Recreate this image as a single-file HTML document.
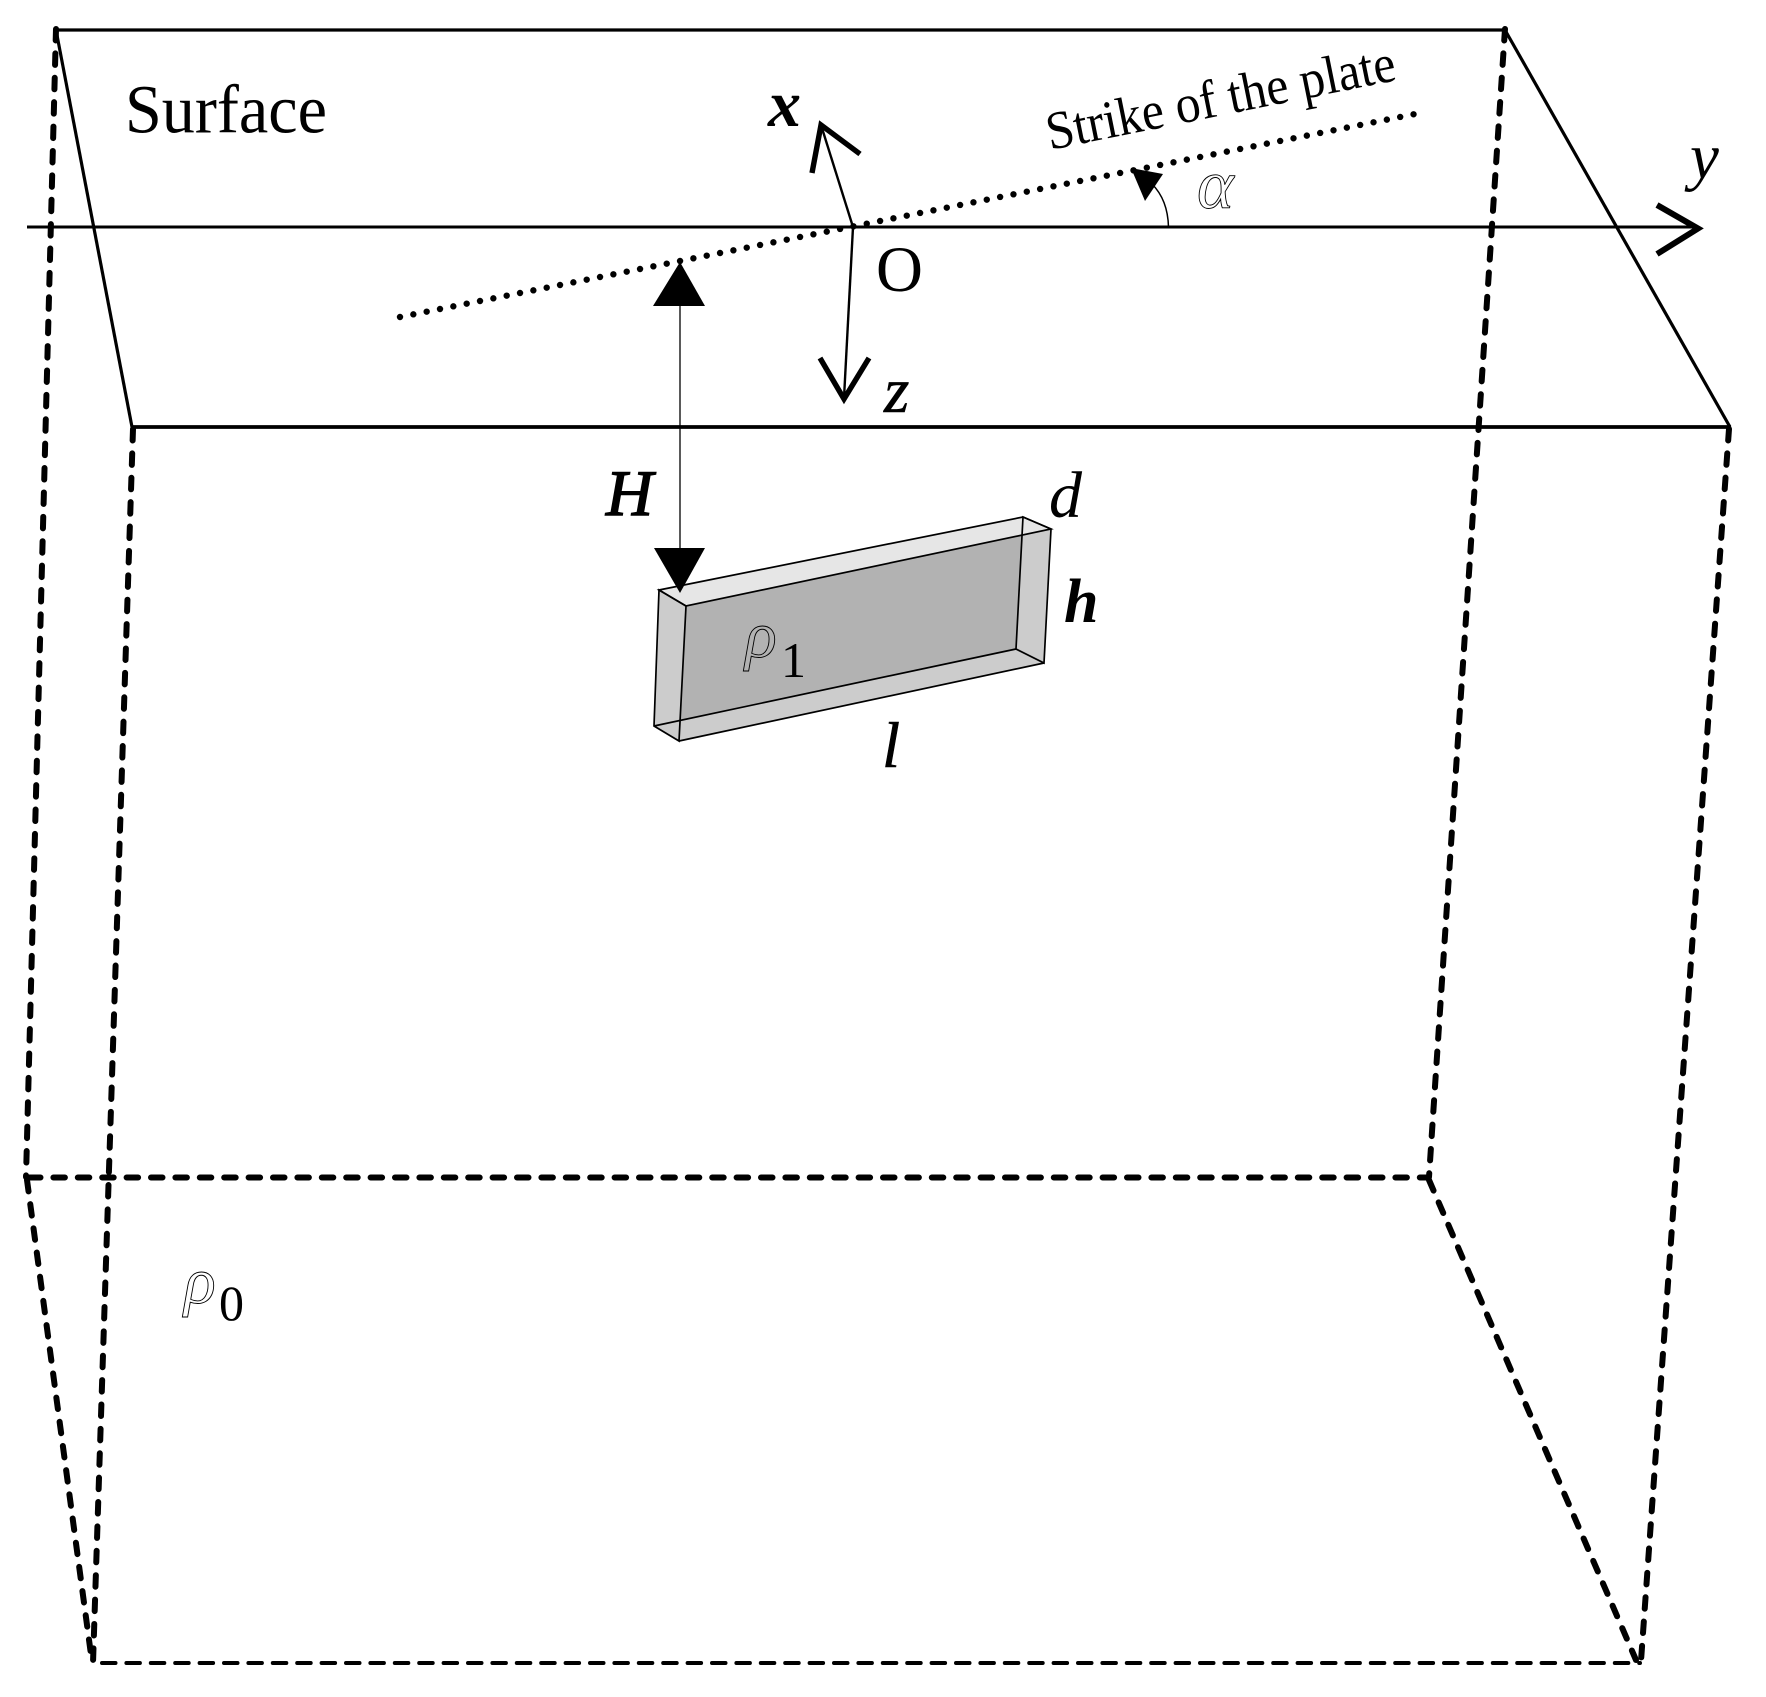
<!DOCTYPE html>
<html lang="en">
<head>
<meta charset="utf-8">
<title>Plate model diagram</title>
<style>
html,body{margin:0;padding:0;background:#fff;}
svg{display:block;}
text{font-family:"Liberation Serif",serif;fill:#000;}
.i{font-style:italic;}
.b{font-style:italic;font-weight:bold;}
.m{font-style:italic;stroke:#000;stroke-width:0.9;}
</style>
</head>
<body>
<svg width="1766" height="1697" viewBox="0 0 1766 1697" xmlns="http://www.w3.org/2000/svg">
<rect width="1766" height="1697" fill="#fff"/>

<!-- box plate -->
<polygon points="1023,517 1051,529 1044,663 1016,649" fill="#ccc"/>
<polygon points="659,590 686,606 679,741 654,726" fill="#ccc"/>
<polygon points="654,726 679,741 1044,663 1016,649" fill="#ccc"/>
<polygon points="686,606 1022,535 1016,649 680.5,720" fill="#b2b2b2"/>
<polygon points="659,590 1023,517 1051,529 686,606" fill="#e6e6e6"/>
<g fill="none" stroke="#000" stroke-width="1.7">
<polygon points="659,590 1023,517 1051,529 686,606"/>
<polygon points="659,590 686,606 679,741 654,726"/>
<polygon points="1023,517 1051,529 1044,663 1016,649"/>
<polyline points="654,726 1016,649"/>
<polyline points="679,741 1044,663"/>
</g>

<!-- solid surface -->
<g fill="none" stroke="#000" stroke-linecap="butt">
<line x1="56" y1="30" x2="1505" y2="30" stroke-width="3.2"/>
<line x1="132" y1="427" x2="1731" y2="427" stroke-width="3.8"/>
<line x1="56" y1="30" x2="132" y2="427" stroke-width="3.2"/>
<line x1="1505" y1="30" x2="1730" y2="427" stroke-width="3.2"/>
<line x1="27" y1="227" x2="1697" y2="227" stroke-width="3"/>
</g>

<!-- dashed box -->
<g fill="none" stroke="#000" stroke-width="6" stroke-linecap="round" stroke-dasharray="11.5 12.9">
<line x1="56" y1="29" x2="26" y2="1177"/>
<line x1="1505" y1="29" x2="1429" y2="1177"/>
<line x1="133" y1="429" x2="93" y2="1663"/>
<line x1="1731" y1="429" x2="1643" y2="1661" transform="translate(-2,0)"/>
<line x1="29" y1="1177.5" x2="1428" y2="1177.5"/>
<line x1="27" y1="1180" x2="92" y2="1662"/>
<line x1="1429" y1="1180" x2="1636" y2="1660"/>
</g>
<line x1="102" y1="1663" x2="1640" y2="1663" fill="none" stroke="#000" stroke-width="4" stroke-linecap="round" stroke-dasharray="13.5 10.9"/>

<!-- strike dotted line -->
<line x1="400" y1="317" x2="1415" y2="114" fill="none" stroke="#000" stroke-width="6.4" stroke-linecap="round" stroke-dasharray="0 13.6"/>

<!-- coordinate axes -->
<g fill="none" stroke="#000">
<line x1="853" y1="227" x2="821" y2="125" stroke-width="2.4"/>
<polyline points="812,173 821,125 860,154" stroke-width="5.4"/>
<line x1="853" y1="227" x2="844" y2="398" stroke-width="2.4"/>
<polyline points="820,358 844,399 869,358" stroke-width="5.4"/>
<polyline points="1657,205 1698,228.5 1657,254" stroke-width="6"/>
<line x1="680" y1="300" x2="680" y2="560" stroke-width="1.3"/>
<path d="M1168.5,227 C1168,208 1162,194 1152,184" stroke-width="1.5"/>
</g>
<polygon points="680,262 653,306 705,306" fill="#000"/>
<polygon points="654,548 705,548 680,593" fill="#000"/>
<polygon points="1131,168 1163,174 1145,201" fill="#000"/>

<!-- labels -->
<text x="125" y="132.5" font-size="69" textLength="202" lengthAdjust="spacingAndGlyphs">Surface</text>
<text x="0" y="0" font-size="54" textLength="355" lengthAdjust="spacingAndGlyphs" transform="translate(1050,150) rotate(-11.4)">Strike of the plate</text>
<text x="768" y="126" font-size="66" class="b">x</text>
<text x="876" y="291" font-size="65">O</text>
<text x="1690" y="178" font-size="65" class="i">y</text>
<text x="884" y="412" font-size="65" class="i" style="stroke:#000;stroke-width:0.6">z</text>
<text x="606" y="515" font-size="65" class="i" style="stroke:#000;stroke-width:1.4">H</text>
<text x="1049" y="517" font-size="66" class="i">d</text>
<text x="1064" y="622" font-size="62" class="b">h</text>
<text x="882" y="767" font-size="65" class="i" style="stroke:#000;stroke-width:0.6">l</text>

<text x="1197" y="208" font-size="70" class="m" style="fill:#fff">α</text>

<text x="745" y="657" font-size="66" class="m" style="fill:#b2b2b2">ρ</text>
<text x="781" y="677" font-size="50">1</text>
<text x="184" y="1303" font-size="66" class="m" style="fill:#fff">ρ</text>
<text x="219" y="1320" font-size="50">0</text>
</svg>
</body>
</html>
